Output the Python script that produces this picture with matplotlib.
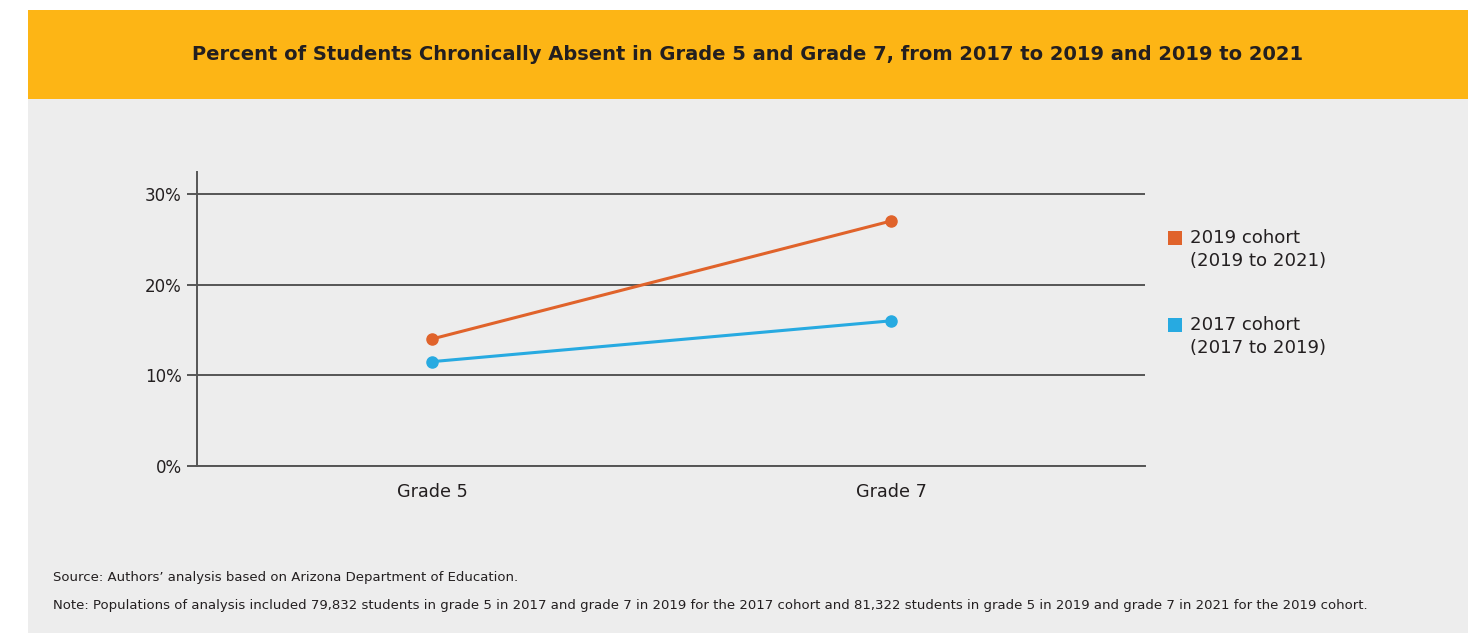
import matplotlib.pyplot as plt
from matplotlib.patches import Rectangle
from matplotlib.ticker import FuncFormatter

grades = ["Grade 5", "Grade 7"]
cohort_2019 = [14.0, 27.0]
cohort_2017 = [11.5, 16.0]
series_labels = ["2019 cohort\n(2019 to 2021)", "2017 cohort\n(2017 to 2019)"]
colors = ["#E0632B", "#27AAE1"]
y_ticks = [0, 10, 20, 30]

title = "Percent of Students Chronically Absent in Grade 5 and Grade 7, from 2017 to 2019 and 2019 to 2021"
source = "Source: Authors\u2019 analysis based on Arizona Department of Education."
note = ("Note: Populations of analysis included 79,832 students in grade 5 in 2017 and grade 7 in 2019 "
        "for the 2017 cohort and 81,322 students in grade 5 in 2019 and grade 7 in 2021 for the 2019 cohort.")

plt.rcParams["font.family"] = ["DejaVu Sans"]
W, H = 1476, 633
fig = plt.figure(figsize=(W / 100, H / 100), dpi=100, facecolor="white")

# panel background and header band
fig.patches.append(Rectangle((28 / W, 0), 1440 / W, (H - 99) / H, transform=fig.transFigure,
                             facecolor="#EDEDED", edgecolor="none", zorder=-2))
fig.patches.append(Rectangle((28 / W, (H - 99) / H), 1440 / W, 89 / H, transform=fig.transFigure,
                             facecolor="#FDB515", edgecolor="none", zorder=-2))
fig.text(748 / W, (H - 55) / H, title, ha="center", va="center", fontsize=14, fontweight="bold",
         color="#231F20")

ax = fig.add_axes([197 / W, (H - 466) / H, 948 / W, 294 / H], zorder=2)
ax.set_facecolor("none")
x = range(len(grades))
for vals, c in zip([cohort_2019, cohort_2017], colors):
    ax.plot(x, vals, color=c, lw=2.2, marker="o", ms=8, zorder=3)

ax.set_xlim(-0.512, 1.553)
ax.set_ylim(0, 32.4)
ax.set_yticks(y_ticks)
ax.yaxis.set_major_formatter(FuncFormatter(lambda v, p: f"{v:.0f}%"))
ax.set_xticks(list(x))
ax.set_xticklabels(grades)
ax.grid(axis="y", color="#555555", lw=1.4)
ax.set_axisbelow(True)
for s in ["top", "right"]:
    ax.spines[s].set_visible(False)
for s in ["left", "bottom"]:
    ax.spines[s].set_color("#555555")
    ax.spines[s].set_linewidth(1.4)
ax.tick_params(axis="y", length=7, width=1.4, color="#555555", labelsize=12, labelcolor="#231F20", pad=4)
ax.tick_params(axis="x", length=0, labelsize=12.7, labelcolor="#231F20", pad=12)

# legend
for i, (lab, c) in enumerate(zip(series_labels, colors)):
    ytop = 231 + i * 87
    fig.patches.append(Rectangle((1168 / W, (H - ytop - 14) / H), 14 / W, 14 / H,
                                 transform=fig.transFigure, facecolor=c, edgecolor="none"))
    fig.text(1190 / W, (H - ytop + 2) / H, lab, ha="left", va="top", fontsize=13.1,
             color="#231F20", linespacing=1.35)

fig.text(53 / W, (H - 577) / H, source, ha="left", va="center", fontsize=9.5, color="#231F20")
fig.text(53 / W, (H - 606) / H, note, ha="left", va="center", fontsize=9.5, color="#231F20")

fig.savefig("out.png", dpi=100, facecolor="white")
